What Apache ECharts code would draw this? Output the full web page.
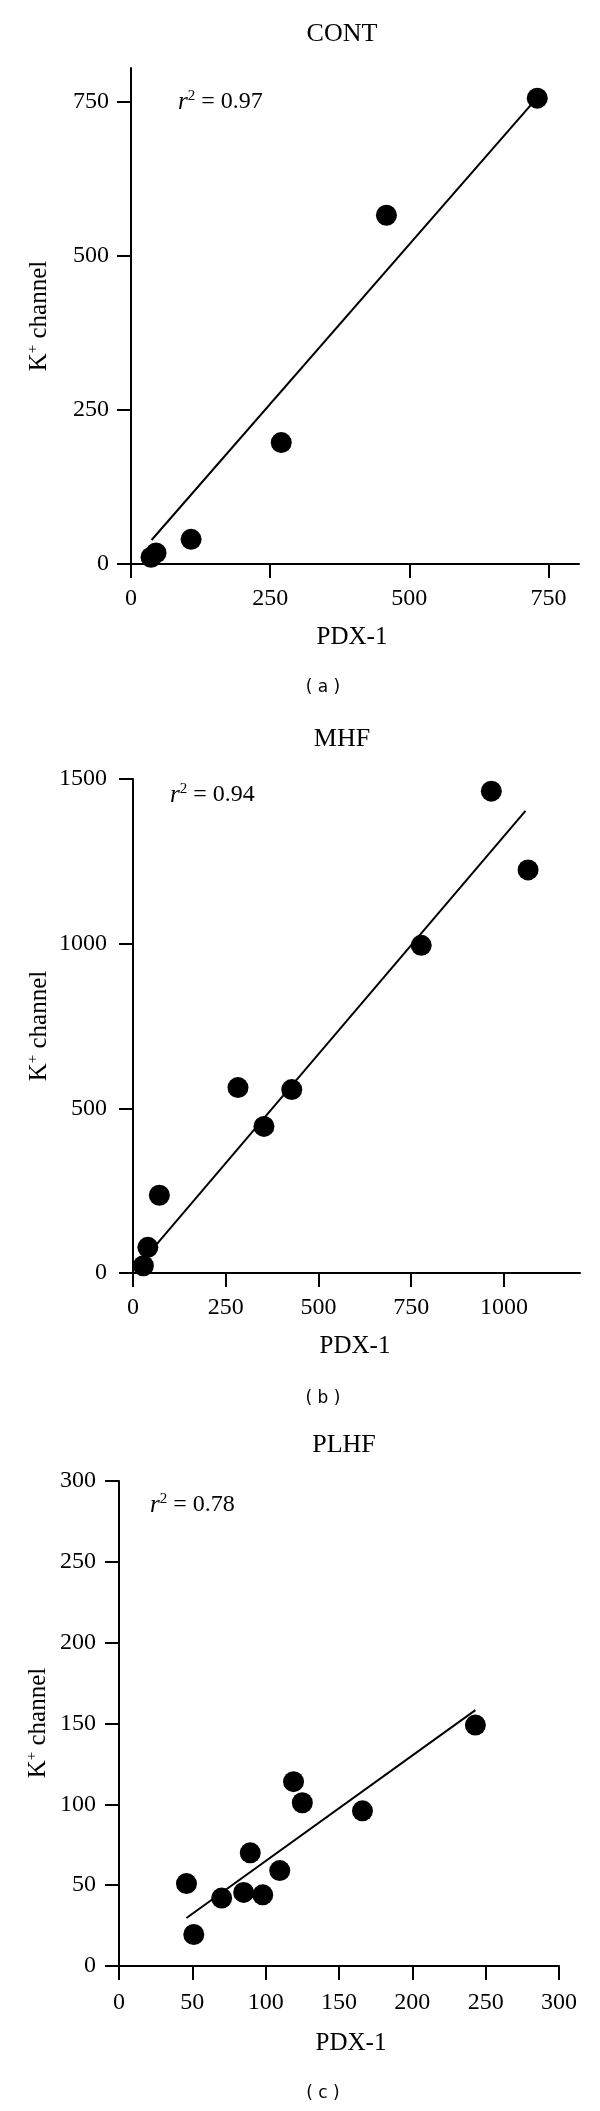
<!DOCTYPE html>
<html>
<head>
<meta charset="utf-8">
<script src="https://cdn.jsdelivr.net/npm/echarts@6/dist/echarts.min.js"></script>
<style>
html, body { margin: 0; padding: 0; background: #fff; }
#main { width: 600px; height: 2111px; }
</style>
</head>
<body>
<div id="main"></div>
<script>
// (a) CONT
const contPdx = [730, 459, 270, 108, 45, 36]
const contK = [756, 566, 197, 40, 18, 11]
const contFitPdx = [37, 730]
const contFitK = [39, 757]
const contXTicks = [0, 250, 500, 750]
const contYTicks = [0, 250, 500, 750]

// (b) MHF
const mhfPdx = [966, 1065, 777, 283, 428, 353, 71, 40, 28]
const mhfK = [1463, 1224, 995, 563, 557, 445, 236, 78, 22]
const mhfFitPdx = [28, 1058]
const mhfFitK = [40, 1403]
const mhfXTicks = [0, 250, 500, 750, 1000]
const mhfYTicks = [0, 500, 1000, 1500]

// (c) PLHF
const plhfPdx = [243, 166, 119, 125, 89.5, 109.6, 46, 51, 70, 85, 98]
const plhfK = [149, 96, 114, 101, 70, 59, 51, 19.5, 42, 45.5, 44]
const plhfFitPdx = [46, 243]
const plhfFitK = [29.7, 158.3]
const plhfXTicks = [0, 50, 100, 150, 200, 250, 300]
const plhfYTicks = [0, 50, 100, 150, 200, 250, 300]

const titles = ['CONT', 'MHF', 'PLHF']
const r2Values = ['0.97', '0.94', '0.78']
const panelTags = ['( a )', '( b )', '( c )']

const panelData = [
    { pdx: contPdx, k: contK, fitPdx: contFitPdx, fitK: contFitK, xTicks: contXTicks, yTicks: contYTicks },
    { pdx: mhfPdx, k: mhfK, fitPdx: mhfFitPdx, fitK: mhfFitK, xTicks: mhfXTicks, yTicks: mhfYTicks },
    { pdx: plhfPdx, k: plhfK, fitPdx: plhfFitPdx, fitK: plhfFitK, xTicks: plhfXTicks, yTicks: plhfYTicks },
]

// pixel layout of each panel
const layout = [
    { left: 131, top: 68, width: 448, height: 496, xMax: 805, yMax: 805, yLabelGap: 22, xLabelGap: 23,
      title: [342, 34], r2: [178, 102], xName: [352, 637], yName: [39, 316], tag: [323, 688] },
    { left: 133, top: 779, width: 447, height: 494, xMax: 1205, yMax: 1500, yLabelGap: 26, xLabelGap: 23,
      title: [342, 739], r2: [170, 795], xName: [355, 1346], yName: [39, 1026], tag: [323, 1399] },
    { left: 119, top: 1481, width: 440, height: 485, xMax: 300, yMax: 300, yLabelGap: 23, xLabelGap: 25,
      title: [344, 1445], r2: [150, 1505], xName: [351, 2043], yName: [38, 1723], tag: [323, 2094] },
]

const serif = 'Liberation Serif'
const black = '#000'

const axisBase = (max, ticks, gap) => ({
    type: 'value',
    min: 0,
    max: max,
    splitLine: { show: false },
    axisLine: { show: true, onZero: false, lineStyle: { color: black, width: 2 } },
    axisTick: { show: true, inside: false, length: 14, customValues: ticks, lineStyle: { color: black, width: 2 } },
    axisLabel: {
        customValues: ticks,
        margin: gap,
        color: black,
        fontFamily: serif,
        fontSize: 24,
        formatter: (v) => String(v),
    },
})

const grid = []
const xAxis = []
const yAxis = []
const series = []
const graphic = []

layout.forEach((lay, i) => {
    const d = panelData[i]
    grid.push({ left: lay.left, top: lay.top, width: lay.width, height: lay.height })

    xAxis.push(Object.assign(axisBase(lay.xMax, d.xTicks, lay.xLabelGap), { gridIndex: i }))
    yAxis.push(Object.assign(axisBase(lay.yMax, d.yTicks, lay.yLabelGap), { gridIndex: i }))

    // regression line
    series.push({
        type: 'line',
        xAxisIndex: i,
        yAxisIndex: i,
        data: d.fitPdx.map((x, j) => [x, d.fitK[j]]),
        showSymbol: false,
        lineStyle: { color: black, width: 2 },
        z: 1,
    })
    // samples
    series.push({
        type: 'scatter',
        xAxisIndex: i,
        yAxisIndex: i,
        data: d.pdx.map((x, j) => [x, d.k[j]]),
        symbol: 'circle',
        symbolSize: 21,
        itemStyle: { color: black, opacity: 1 },
        z: 2,
    })

    graphic.push({
        type: 'text', x: lay.title[0], y: lay.title[1],
        style: { text: titles[i], font: '26px "Liberation Serif"', fill: black, align: 'center', verticalAlign: 'middle' }
    })
    graphic.push({
        type: 'text', x: lay.xName[0], y: lay.xName[1],
        style: { text: 'PDX-1', font: '25px "Liberation Serif"', fill: black, align: 'center', verticalAlign: 'middle' }
    })
    graphic.push({
        type: 'text', x: lay.yName[0], y: lay.yName[1], rotation: Math.PI / 2,
        style: {
            text: '{m|K}{s|+}{m| channel}',
            align: 'center',
            verticalAlign: 'middle',
            rich: {
                m: { fontFamily: serif, fontSize: 25, fill: black, lineHeight: 26 },
                s: { fontFamily: serif, fontSize: 15, fill: black, verticalAlign: 'top', lineHeight: 14 },
            }
        }
    })
    graphic.push({
        type: 'text', x: lay.tag[0], y: lay.tag[1],
        style: { text: panelTags[i], font: '17px "DejaVu Sans"', fill: black, align: 'center', verticalAlign: 'middle' }
    })
    graphic.push({
        type: 'text', x: lay.r2[0], y: lay.r2[1],
        style: {
            text: '{i|r}{s|2}{m| = ' + r2Values[i] + '}',
            align: 'left',
            verticalAlign: 'middle',
            rich: {
                i: { fontFamily: serif, fontStyle: 'italic', fontSize: 25, fill: black, lineHeight: 26 },
                s: { fontFamily: serif, fontSize: 15, fill: black, verticalAlign: 'top', lineHeight: 14 },
                m: { fontFamily: serif, fontSize: 24, fill: black, lineHeight: 26 },
            }
        }
    })
})

const myChart = echarts.init(document.getElementById('main'), null, { renderer: 'canvas' })
myChart.setOption({
    animation: false,
    backgroundColor: '#fff',
    grid,
    xAxis,
    yAxis,
    series,
    graphic,
})
</script>
</body>
</html>
